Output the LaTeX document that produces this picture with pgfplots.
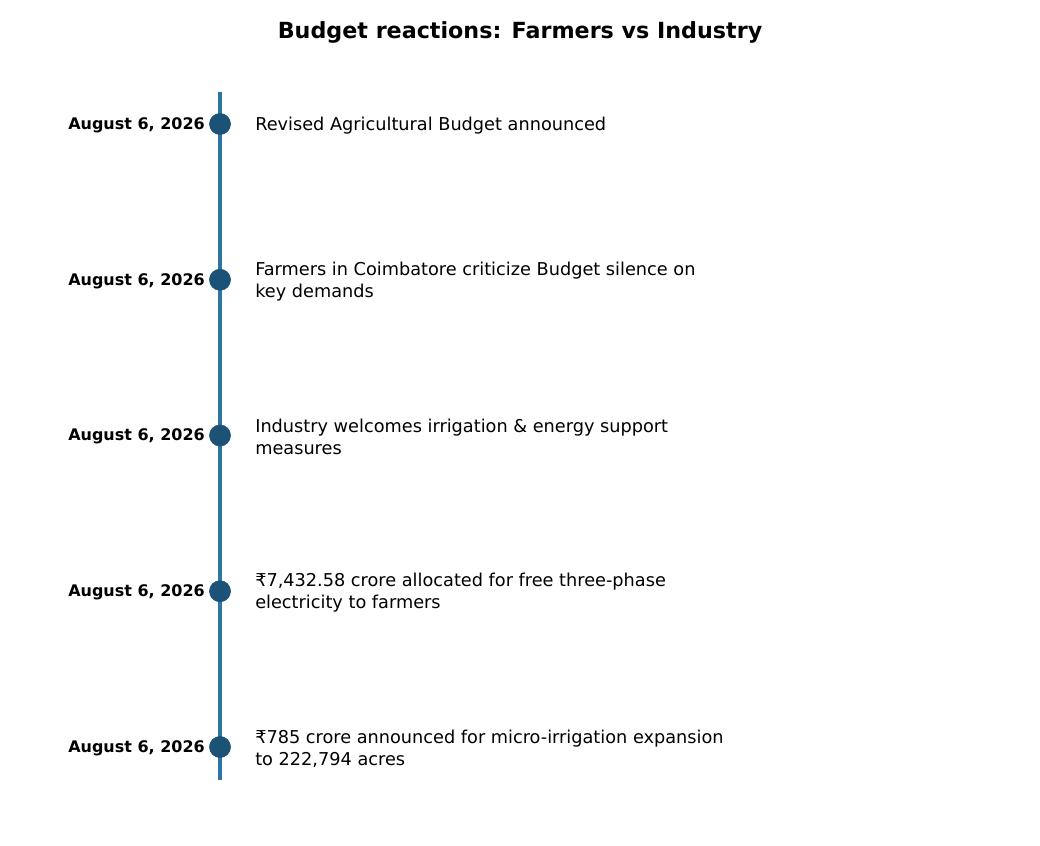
\documentclass[border=0pt]{standalone}
\usepackage{pgfplots}
\pgfplotsset{compat=1.18}
\usepackage{fontspec}
\setmainfont{DejaVu Sans}

\definecolor{tline}{HTML}{2E75A6}
\definecolor{tdot}{HTML}{1B5276}

% 1 px of the reference = 0.72pt; x in px, y in event index
\newcommand{\desc}[2]{\node[anchor=west, align=left, font=\fontsize{12.75}{15.8}\selectfont, inner sep=0pt]
    at (axis cs:255,#1+0.01) {#2};}
\newcommand{\when}[2]{\node[anchor=east, font=\fontsize{11.5}{13}\selectfont\bfseries, inner sep=0pt]
    at (axis cs:205,#1+0.008) {#2};}

\begin{document}
\begin{tikzpicture}
    \begin{axis}[
        at={(0pt,0pt)}, anchor=south west,
        scale only axis,
        width=748.8pt,
        height=608.4pt,
        xmin=0, xmax=1040,
        ymin=-0.7961, ymax=4.6292,
        y dir=reverse,
        hide axis,
        clip=false,
    ]
        % the timeline
        \addplot[tline, line width=2.2pt, mark=none]
        coordinates {(220,-0.2055) (220,4.212)};

        % the events
        \addplot[only marks, mark=*, mark size=7.6pt, tdot, mark options={draw=tdot, fill=tdot}]
        coordinates {(220,0) (220,1) (220,2) (220,3) (220,4)};

        \when{0}{August 6, 2026}
        \when{1}{August 6, 2026}
        \when{2}{August 6, 2026}
        \when{3}{August 6, 2026}
        \when{4}{August 6, 2026}

        \desc{0}{Revised Agricultural Budget announced}
        \desc{1}{Farmers in Coimbatore criticize Budget silence on\\key demands}
        \desc{2}{Industry welcomes irrigation \& energy support\\measures}
        \desc{3}{₹7,432.58 crore allocated for free three-phase\\electricity to farmers}
        \desc{4}{₹785 crore announced for micro-irrigation expansion\\to 222,794 acres}

        \node[font=\fontsize{16}{19}\selectfont\bfseries] at (axis cs:520,-0.59)
            {Budget reactions: Farmers vs Industry};
    \end{axis}
    \pgfresetboundingbox
    \path[use as bounding box] (0pt,0pt) rectangle (748.8pt,608.4pt);
\end{tikzpicture}
\end{document}
